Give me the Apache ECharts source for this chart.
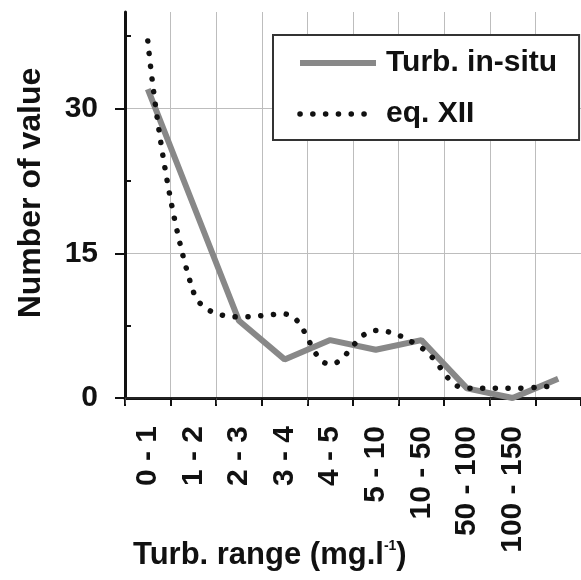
<!DOCTYPE html>
<html>
<head>
<meta charset="utf-8">
<script src="https://cdn.jsdelivr.net/npm/echarts@6/dist/echarts.min.js"></script>
<style>
  html, body { margin: 0; padding: 0; background: #fff; }
  #chart { width: 581px; height: 580px; }
</style>
</head>
<body>
<div id="chart"></div>
<script>
var ranges = ['0 - 1', '1 - 2', '2 - 3', '3 - 4', '4 - 5', '5 - 10', '10 - 50', '50 - 100', '100 - 150', ''];
var inSitu = [32, 20, 8, 4, 6, 5, 6, 1, 0, 2];
var eqXII = [37, 11, 8.4, 8.7, 3.5, 7, 5.2, 1, 1, 1.3];
var majorTicks = [0, 15, 30];
var minorTicks = [7.5, 22.5, 37.5];

var font = 'Liberation Sans, Arial, sans-serif';
var solid = { color: '#888', width: 6 };
var dots = { color: '#111', width: 5.5, type: [0.1, 12.7], cap: 'round' };

var chart = echarts.init(document.getElementById('chart'));

chart.setOption({
    backgroundColor: '#fff',
    animation: false,
    grid: { left: 125, top: 12, right: -8, bottom: 182 },
    legend: {
        orient: 'vertical',
        left: 273,
        top: 35,
        padding: [13, 22, 11, 24],
        backgroundColor: '#fff',
        borderColor: '#333',
        borderWidth: 2,
        borderRadius: 0,
        itemWidth: 76,
        itemHeight: 30,
        itemGap: 21,
        itemStyle: { opacity: 0 },
        textStyle: { fontFamily: font, fontWeight: 'bold', fontSize: 30, color: '#111', lineHeight: 30, padding: [0, 0, 0, 5] },
        data: [
            { name: 'Turb. in-situ', lineStyle: solid },
            { name: 'eq. XII', lineStyle: dots }
        ]
    },
    xAxis: [{
        type: 'category',
        data: ranges,
        boundaryGap: true,
        axisLine: { lineStyle: { color: '#111', width: 3 } },
        axisTick: { show: true, length: 8, lineStyle: { color: '#111', width: 2 } },
        axisLabel: { rotate: 90, margin: 28, interval: 0, fontFamily: font, fontWeight: 'bold', fontSize: 30, color: '#111' },
        splitLine: { show: true, lineStyle: { color: '#bdbdbd', width: 1 } }
    }, {
        type: 'category',
        position: 'top',
        data: ranges,
        boundaryGap: true,
        axisLine: { show: true, lineStyle: { color: '#222', width: 2 } },
        axisTick: { show: true, inside: true, length: 6, lineStyle: { color: '#444', width: 1 } },
        axisLabel: { show: false },
        splitLine: { show: false }
    }],
    yAxis: [{
        type: 'value',
        min: 0,
        max: 40,
        interval: 15,
        name: 'Number of value',
        nameLocation: 'middle',
        nameGap: 78,
        nameTextStyle: { fontFamily: font, fontWeight: 'bold', fontSize: 32, color: '#111', padding: [0, 0, 0, 24] },
        axisLine: { show: true, lineStyle: { color: '#111', width: 3 } },
        axisTick: { show: true, length: 10, customValues: majorTicks, lineStyle: { color: '#111', width: 2 } },
        axisLabel: { margin: 27, customValues: majorTicks, fontFamily: font, fontWeight: 'bold', fontSize: 30, color: '#111' },
        splitLine: { show: true, lineStyle: { color: '#bdbdbd', width: 1 } }
    }, {
        type: 'value',
        position: 'left',
        min: 0,
        max: 40,
        interval: 7.5,
        axisLine: { show: false },
        axisTick: { show: true, inside: true, length: 6, customValues: minorTicks, lineStyle: { color: '#111', width: 2 } },
        axisLabel: { show: false },
        splitLine: { show: false }
    }],
    series: [{
        name: 'Turb. in-situ',
        type: 'line',
        data: inSitu,
        symbol: 'none',
        z: 2,
        lineStyle: solid,
        itemStyle: { color: '#888' }
    }, {
        name: 'eq. XII',
        type: 'line',
        data: eqXII,
        symbol: 'none',
        smooth: 0.4,
        z: 3,
        lineStyle: dots,
        itemStyle: { color: '#111' }
    }],
    graphic: [{
        type: 'text',
        left: 133,
        top: 539,
        style: {
            text: '{a|Turb. range (mg.l}{s|-1}{a|)}',
            rich: {
                a: { fontFamily: font, fontWeight: 'bold', fontSize: 31, fill: '#111', lineHeight: 32 },
                s: { fontFamily: font, fontWeight: 'bold', fontSize: 14, fill: '#111', verticalAlign: 'top', lineHeight: 32 }
            }
        }
    }]
});
</script>
</body>
</html>
